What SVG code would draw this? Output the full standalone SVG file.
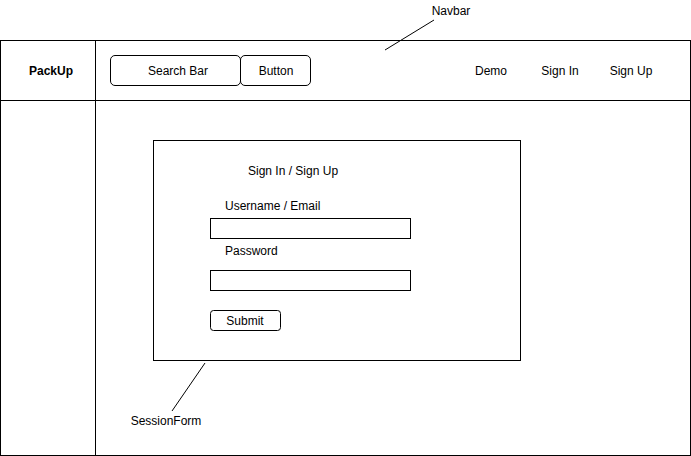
<svg xmlns="http://www.w3.org/2000/svg" width="691" height="456" viewBox="0 0 691 456">
<style>
.box{fill:#ffffff;stroke:#000000;stroke-width:1}
.t{font-family:"Liberation Sans",Arial,sans-serif;font-size:12px;fill:#000000}
.c{text-anchor:middle}
.b{font-weight:bold}
.ln{stroke:#000000;stroke-width:1;fill:none}
</style>
<rect x="0" y="0" width="691" height="456" fill="#ffffff"/>
<g id="sidebar"><rect class="box" x="0.5" y="100.5" width="95" height="355"/></g>
<g id="main"><rect class="box" x="95.5" y="100.5" width="595" height="355"/></g>
<g id="logo"><rect class="box" x="0.5" y="40.5" width="95" height="60"/><text class="t c b" x="51" y="75">PackUp</text></g>
<g id="navbar"><rect class="box" x="95.5" y="40.5" width="595" height="60"/></g>
<g id="searchbar"><rect class="box" x="110.5" y="55.5" width="130" height="30" rx="4.5"/><text class="t c" x="178" y="75">Search Bar</text></g>
<g id="button"><rect class="box" x="240.5" y="55.5" width="70" height="30" rx="4.5"/><text class="t c" x="276" y="75">Button</text></g>
<g id="demo"><text class="t c" x="491" y="75">Demo</text></g>
<g id="signin"><text class="t c" x="560" y="75">Sign In</text></g>
<g id="signup"><text class="t c" x="631" y="75">Sign Up</text></g>
<g id="navbar-label"><text class="t c" x="451" y="15">Navbar</text></g>
<g id="sessionform"><rect class="box" x="153.5" y="140.5" width="367" height="220"/>
<text class="t" x="248" y="175">Sign In / Sign Up</text>
<text class="t" x="225" y="210">Username / Email</text>
<rect class="box" x="210.5" y="218.5" width="200" height="20"/>
<text class="t" x="225" y="255">Password</text>
<rect class="box" x="210.5" y="270.5" width="200" height="20"/>
</g>
<g id="submit"><rect class="box" x="210.5" y="310.5" width="70" height="20" rx="3"/><text class="t c" x="245" y="325">Submit</text></g>
<g id="sessionform-label"><text class="t c" x="166" y="425">SessionForm</text></g>
<g id="connectors">
<line class="ln" x1="385" y1="50" x2="434" y2="20"/>
<line class="ln" x1="205" y1="363" x2="172" y2="411"/>
</g>
</svg>
